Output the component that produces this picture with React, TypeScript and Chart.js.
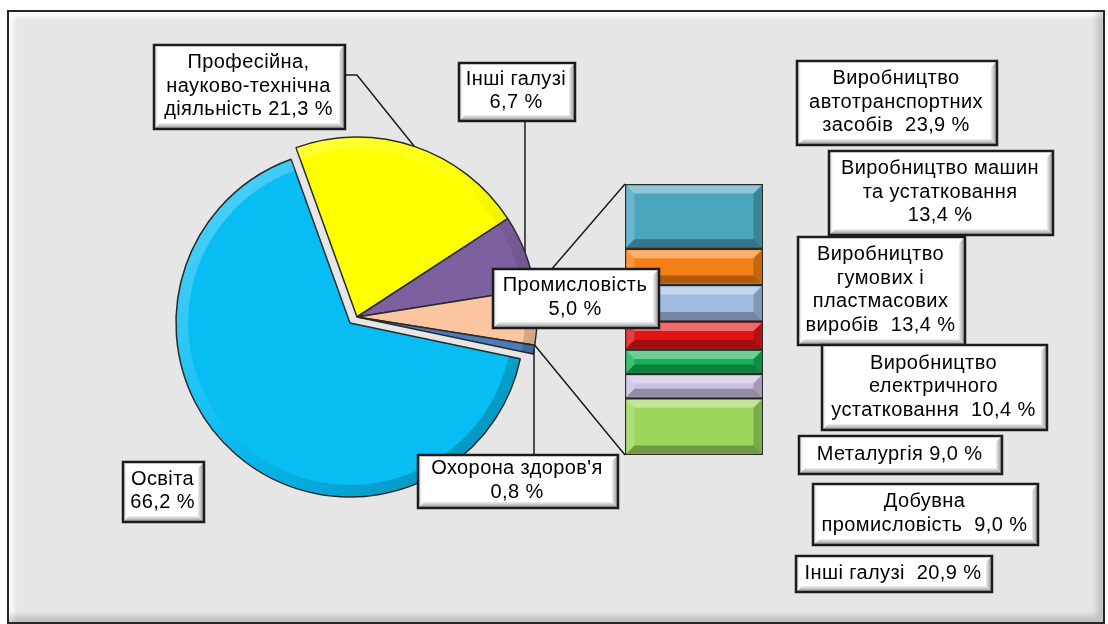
import React, { useEffect, useRef } from "react";
import { Chart, registerables } from "chart.js";

Chart.register(...registerables);

// ---------------- DATA ----------------
const pieCategories = [
  "Професійна, науково-технічна діяльність",
  "Інші галузі",
  "Промисловість",
  "Охорона здоров'я",
  "Освіта",
];
const pieValues = [21.3, 6.7, 5.0, 0.8, 66.2];
const pieLabelLines = [
  ["Професійна,", "науково-технічна", "діяльність {v}"],
  ["Інші галузі", "{v}"],
  ["Промисловість", "{v}"],
  ["Охорона здоров'я", "{v}"],
  ["Освіта", "{v}"],
];
const splitIndex = 2; // "Промисловість" is broken down in the bar
const explodedIndex = 4; // "Освіта" is pulled out of the pie

const barCategories = [
  "Виробництво автотранспортних засобів",
  "Виробництво машин та устатковання",
  "Виробництво гумових і пластмасових виробів",
  "Виробництво електричного устатковання",
  "Металургія",
  "Добувна промисловість",
  "Інші галузі",
];
const barValues = [23.9, 13.4, 13.4, 10.4, 9.0, 9.0, 20.9];
const barLabelLines = [
  ["Виробництво", "автотранспортних", "засобів  {v}"],
  ["Виробництво машин", "та устатковання", "{v}"],
  ["Виробництво", "гумових і", "пластмасових", "виробів  {v}"],
  ["Виробництво", "електричного", "устатковання  {v}"],
  ["Металургія {v}"],
  ["Добувна", "промисловість  {v}"],
  ["Інші галузі  {v}"],
];

// ---------------- STYLE / LAYOUT ----------------
const W = 1108;
const H = 624;
const pieColors = ["#ffff00", "#7d60a0", "#fbc59f", "#4a7ebb", "#08bdf4"];
const barColors = ["#4aa5bd", "#f57f17", "#a0bce3", "#e01416", "#14b155", "#cdbfe0", "#9bd75c"];
const PIE_CENTER = { x: 357, y: 317 };
const PIE_RADIUS = 180;
const EXPLODED_CENTER = { x: 350, y: 323 };
const EXPLODED_RADIUS = 174;
const BAR_AREA = { left: 625, top: 184, right: 763, bottom: 455 };
const pieBoxes = [
  [154, 45, 191, 84],
  [459, 63, 116, 58],
  [493, 269, 166, 59],
  [418, 455, 200, 53],
  [123, 462, 81, 60],
];
const pieLeaderKinds = ["elbow", "vertical-down", "none", "vertical-up", "none"];
const barBoxes = [
  [797, 61, 200, 84],
  [829, 151, 224, 84],
  [798, 237, 167, 108],
  [822, 345, 225, 85],
  [799, 436, 203, 38],
  [813, 484, 225, 61],
  [796, 556, 196, 36],
];
const FONT = "20px 'Liberation Sans', Arial, sans-serif";
const LINE_H = 23.5;
const INK = "#1c1c1c";

function fmt(v: number) {
  return v.toFixed(1).replace(".", ",") + " %";
}

function drawBox(ctx: CanvasRenderingContext2D, box: number[], lines: string[]) {
  const [x, y, w, h] = box;
  const b = 6;
  ctx.save();
  ctx.fillStyle = "#ffffff";
  ctx.fillRect(x, y, w, h);
  let g = ctx.createLinearGradient(0, y + h - b, 0, y + h);
  g.addColorStop(0, "#f2f2f2");
  g.addColorStop(1, "#8a8a8a");
  ctx.fillStyle = g;
  ctx.beginPath();
  ctx.moveTo(x + b, y + h - b);
  ctx.lineTo(x + w - b, y + h - b);
  ctx.lineTo(x + w, y + h);
  ctx.lineTo(x, y + h);
  ctx.closePath();
  ctx.fill();
  g = ctx.createLinearGradient(x + w - b, 0, x + w, 0);
  g.addColorStop(0, "#eeeeee");
  g.addColorStop(1, "#8f8f8f");
  ctx.fillStyle = g;
  ctx.beginPath();
  ctx.moveTo(x + w - b, y + b);
  ctx.lineTo(x + w, y);
  ctx.lineTo(x + w, y + h);
  ctx.lineTo(x + w - b, y + h - b);
  ctx.closePath();
  ctx.fill();
  g = ctx.createLinearGradient(x, 0, x + 4, 0);
  g.addColorStop(0, "#c8c8c8");
  g.addColorStop(1, "#ffffff");
  ctx.fillStyle = g;
  ctx.beginPath();
  ctx.moveTo(x, y);
  ctx.lineTo(x + 4, y + 4);
  ctx.lineTo(x + 4, y + h - 4);
  ctx.lineTo(x, y + h);
  ctx.closePath();
  ctx.fill();
  ctx.lineWidth = 2.5;
  ctx.strokeStyle = INK;
  ctx.strokeRect(x, y, w, h);
  ctx.fillStyle = "#000000";
  ctx.font = FONT;
  (ctx as any).letterSpacing = "0.4px";
  ctx.textAlign = "center";
  ctx.textBaseline = "middle";
  const cx = x + w / 2 - 1;
  const cy = y + h / 2 - 1;
  lines.forEach((t, i) => {
    ctx.fillText(t, cx, cy + (i - (lines.length - 1) / 2) * LINE_H);
  });
  ctx.restore();
}

function bevelRect(ctx: CanvasRenderingContext2D, l: number, t: number, r: number, btm: number, b: number) {
  const hgt = btm - t;
  const bb = Math.min(b, hgt / 2.5);
  ctx.save();
  ctx.fillStyle = "rgba(255,255,255,0.38)";
  ctx.beginPath();
  ctx.moveTo(l, t);
  ctx.lineTo(r, t);
  ctx.lineTo(r - bb, t + bb);
  ctx.lineTo(l + bb, t + bb);
  ctx.closePath();
  ctx.fill();
  ctx.fillStyle = "rgba(255,255,255,0.18)";
  ctx.beginPath();
  ctx.moveTo(l, t);
  ctx.lineTo(l + bb, t + bb);
  ctx.lineTo(l + bb, btm - bb);
  ctx.lineTo(l, btm);
  ctx.closePath();
  ctx.fill();
  ctx.fillStyle = "rgba(0,0,0,0.28)";
  ctx.beginPath();
  ctx.moveTo(l, btm);
  ctx.lineTo(r, btm);
  ctx.lineTo(r - bb, btm - bb);
  ctx.lineTo(l + bb, btm - bb);
  ctx.closePath();
  ctx.fill();
  ctx.fillStyle = "rgba(0,0,0,0.2)";
  ctx.beginPath();
  ctx.moveTo(r, t);
  ctx.lineTo(r - bb, t + bb);
  ctx.lineTo(r - bb, btm - bb);
  ctx.lineTo(r, btm);
  ctx.closePath();
  ctx.fill();
  ctx.restore();
}

const pieBevelPlugin = {
  id: "pieBevel",
  afterDatasetsDraw(chart: any) {
    const ctx: CanvasRenderingContext2D = chart.ctx;
    const colors = chart.data.datasets[0].backgroundColor as string[];
    chart.getDatasetMeta(0).data.forEach((a: any, i: number) => {
      if (colors[i] === "rgba(0,0,0,0)") return;
      const R = a.outerRadius;
      ctx.save();
      ctx.beginPath();
      ctx.moveTo(a.x, a.y);
      ctx.arc(a.x, a.y, R, a.startAngle, a.endAngle);
      ctx.closePath();
      ctx.clip();
      const g = ctx.createLinearGradient(a.x - R, a.y - R, a.x + R, a.y + R);
      g.addColorStop(0, "rgba(255,255,255,0.35)");
      g.addColorStop(0.45, "rgba(255,255,255,0.04)");
      g.addColorStop(0.55, "rgba(0,0,0,0.04)");
      g.addColorStop(1, "rgba(0,0,0,0.28)");
      ctx.strokeStyle = g;
      ctx.lineWidth = 11;
      ctx.beginPath();
      ctx.arc(a.x, a.y, R - 6.5, a.startAngle, a.endAngle);
      ctx.stroke();
      ctx.restore();
    });
  },
};

function makePie(canvas: HTMLCanvasElement, colors: string[], borders: number[], center: { x: number; y: number }, radius: number, rotation: number) {
  return new Chart(canvas, {
    type: "pie",
    data: {
      labels: pieCategories,
      datasets: [
        {
          data: pieValues,
          backgroundColor: colors,
          borderColor: "#2a2a2a",
          borderWidth: borders,
          hoverOffset: 0,
        },
      ],
    },
    options: {
      responsive: false,
      animation: false,
      events: [],
      rotation,
      radius,
      layout: {
        padding: {
          left: center.x - 200,
          right: W - center.x - 200,
          top: center.y - 200,
          bottom: H - center.y - 200,
        },
      },
      plugins: { legend: { display: false }, tooltip: { enabled: false } },
    },
    plugins: [pieBevelPlugin],
  } as any);
}

export default function App() {
  const pieOutRef = useRef<HTMLCanvasElement | null>(null);
  const pieRef = useRef<HTMLCanvasElement | null>(null);
  const barRef = useRef<HTMLCanvasElement | null>(null);

  useEffect(() => {
    if (!pieRef.current || !barRef.current || !pieOutRef.current) return;
    const total = pieValues.reduce((a, b) => a + b, 0);
    const before = pieValues.slice(0, splitIndex).reduce((a, b) => a + b, 0);
    const rotation = 90 - ((before + pieValues[splitIndex] / 2) / total) * 360;
    const clear = "rgba(0,0,0,0)";

    // exploded slice ("Освіта") drawn by its own pie layer
    const pieOut = makePie(
      pieOutRef.current,
      pieColors.map((c, i) => (i === explodedIndex ? c : clear)),
      pieColors.map((_, i) => (i === explodedIndex ? 1.5 : 0)),
      EXPLODED_CENTER,
      EXPLODED_RADIUS,
      rotation
    );
    // the remaining slices
    const pie = makePie(
      pieRef.current,
      pieColors.map((c, i) => (i === explodedIndex ? clear : c)),
      pieColors.map((_, i) => (i === explodedIndex ? 0 : 1.5)),
      PIE_CENTER,
      PIE_RADIUS,
      rotation
    );

    const bevelPlugin = {
      id: "bevel",
      afterDatasetsDraw(chart: any) {
        const ctx = chart.ctx;
        chart.data.datasets.forEach((_: any, di: number) => {
          chart.getDatasetMeta(di).data.forEach((el: any) => {
            const l = el.x - el.width / 2 + 1.5;
            const r = el.x + el.width / 2 - 1.5;
            const t = Math.min(el.y, el.base) + 1.5;
            const b = Math.max(el.y, el.base) - 1.5;
            bevelRect(ctx, l, t, r, b, 8);
          });
        });
      },
    };

    const annotPlugin = {
      id: "annot",
      afterDraw(chart: any) {
        const ctx: CanvasRenderingContext2D = chart.ctx;
        const arcs = pie.getDatasetMeta(0).data as any[];
        const yScale = chart.scales.y;
        const firstBar = chart.getDatasetMeta(0).data[0] as any;
        const barLeft = firstBar.x - firstBar.width / 2;
        const barTop = yScale.getPixelForValue(0);
        const barBottom = yScale.getPixelForValue(barValues.reduce((a, b) => a + b, 0));

        ctx.save();
        ctx.strokeStyle = INK;
        ctx.lineWidth = 1.5;
        const sp = arcs[splitIndex];
        const p1 = { x: sp.x + Math.cos(sp.startAngle) * sp.outerRadius, y: sp.y + Math.sin(sp.startAngle) * sp.outerRadius };
        const p2 = { x: sp.x + Math.cos(sp.endAngle) * sp.outerRadius, y: sp.y + Math.sin(sp.endAngle) * sp.outerRadius };
        ctx.beginPath();
        ctx.moveTo(p1.x, p1.y);
        ctx.lineTo(barLeft, barTop);
        ctx.moveTo(p2.x, p2.y);
        ctx.lineTo(barLeft, barBottom);
        ctx.stroke();

        arcs.forEach((a: any, i: number) => {
          const kind = pieLeaderKinds[i];
          if (kind === "none") return;
          const mid = (a.startAngle + a.endAngle) / 2;
          const ax = a.x + Math.cos(mid) * a.outerRadius;
          const ay = a.y + Math.sin(mid) * a.outerRadius;
          const [bx, by, bw, bh] = pieBoxes[i];
          ctx.beginPath();
          if (kind === "elbow") {
            const sy = by + 30;
            ctx.moveTo(bx + bw, sy);
            ctx.lineTo(bx + bw + 12, sy);
            ctx.lineTo(ax, ay);
          } else if (kind === "vertical-down") {
            ctx.moveTo(ax, by + bh);
            ctx.lineTo(ax, ay);
          } else if (kind === "vertical-up") {
            ctx.moveTo(ax, ay);
            ctx.lineTo(ax, by);
          }
          ctx.stroke();
        });
        ctx.restore();

        pieValues.forEach((v, i) => {
          drawBox(ctx, pieBoxes[i], pieLabelLines[i].map((s) => s.replace("{v}", fmt(v))));
        });
        barValues.forEach((v, i) => {
          drawBox(ctx, barBoxes[i], barLabelLines[i].map((s) => s.replace("{v}", fmt(v))));
        });
      },
    };

    const barTotal = barValues.reduce((a, b) => a + b, 0);
    const bar = new Chart(barRef.current, {
      type: "bar",
      data: {
        labels: [pieCategories[splitIndex]],
        datasets: barValues.map((v, i) => ({
          label: barCategories[i],
          data: [v],
          backgroundColor: barColors[i],
          borderColor: "#2a2a2a",
          borderWidth: 1.5,
          borderSkipped: false,
          barPercentage: 1,
          categoryPercentage: 1,
        })),
      },
      options: {
        responsive: false,
        animation: false,
        events: [],
        layout: {
          padding: {
            left: BAR_AREA.left,
            right: W - BAR_AREA.right,
            top: BAR_AREA.top,
            bottom: H - BAR_AREA.bottom,
          },
        },
        scales: {
          x: { display: false, stacked: true },
          y: { display: false, stacked: true, min: 0, max: barTotal, reverse: true },
        },
        plugins: { legend: { display: false }, tooltip: { enabled: false } },
      },
      plugins: [bevelPlugin, annotPlugin],
    } as any);

    return () => {
      bar.destroy();
      pie.destroy();
      pieOut.destroy();
    };
  }, []);

  const layer = { position: "absolute" as const, left: 0, top: 0 };
  return (
    <div style={{ position: "absolute", left: 0, top: 0, width: W, height: H, overflow: "hidden", background: "#ffffff" }}>
      <div
        style={{
          position: "absolute",
          left: 7,
          top: 10,
          width: 1098,
          height: 614,
          boxSizing: "border-box",
          border: "2.5px solid #262626",
          background: "#e6e6e6",
          boxShadow: "inset -6px -6px 6px rgba(0,0,0,0.16), inset 5px 5px 5px rgba(255,255,255,0.85)",
        }}
      />
      <canvas ref={pieOutRef} width={W} height={H} style={layer} />
      <canvas ref={pieRef} width={W} height={H} style={layer} />
      <canvas ref={barRef} width={W} height={H} style={layer} />
    </div>
  );
}
